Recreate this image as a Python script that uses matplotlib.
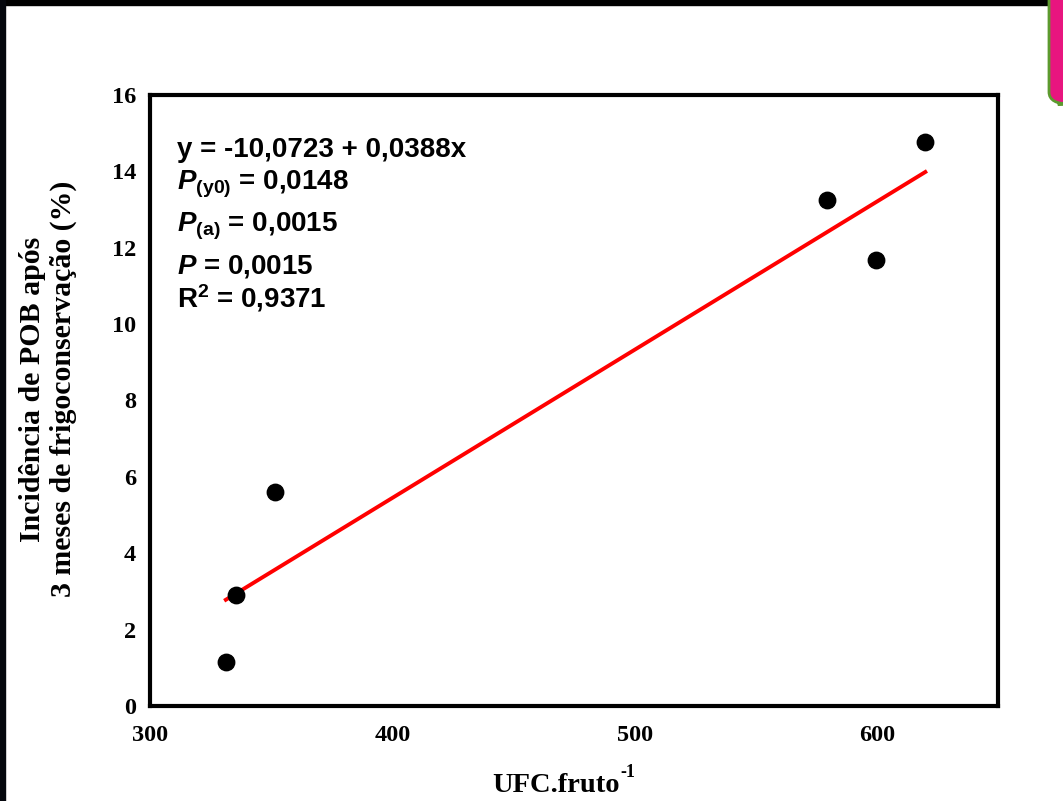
import matplotlib
matplotlib.use("Agg")
import matplotlib.pyplot as plt
import numpy as np
from matplotlib.patches import FancyBboxPatch, Rectangle

plt.rcParams["mathtext.fontset"] = "custom"
plt.rcParams["mathtext.rm"] = "Liberation Sans:bold"
plt.rcParams["mathtext.it"] = "Liberation Sans:italic:bold"
plt.rcParams["mathtext.bf"] = "Liberation Sans:bold"
plt.rcParams["mathtext.bfit"] = "Liberation Sans:italic:bold"

# Data
ufc = [331.3, 335.5, 351.5, 579.6, 599.8, 620.0]
incidencia = [1.15, 2.91, 5.60, 13.25, 11.68, 14.77]
intercept = -10.0723
slope = 0.0388
x_ticks = [300, 400, 500, 600]
y_ticks = [0, 2, 4, 6, 8, 10, 12, 14, 16]
stats_lines = [
    r"y = -10,0723 + 0,0388x",
    r"$\boldsymbol{P}_{\mathbf{(y0)}}$ = 0,0148",
    r"$\boldsymbol{P}_{\mathbf{(a)}}$ = 0,0015",
    r"$\boldsymbol{P}$ = 0,0015",
    r"R$^{\mathbf{2}}$ = 0,9371",
]

W, H = 1063, 801
fig = plt.figure(figsize=(W / 100, H / 100), dpi=100)
fig.patch.set_facecolor("white")

# decorative frame: black top strip, dark left strip, pink tab top right
fig.add_artist(Rectangle((0, 1 - 5 / H), 1, 5 / H, transform=fig.transFigure,
                         color="black", zorder=0))
fig.add_artist(Rectangle((0, 0), 5 / W, 1, transform=fig.transFigure,
                         color="#05070d", zorder=0))
fig.add_artist(FancyBboxPatch((1049 / W, 0.87), 30 / W, 0.2,
                              boxstyle="round,pad=0,rounding_size=0.02",
                              transform=fig.transFigure, facecolor="#e8157f",
                              edgecolor="#5c9a2e", linewidth=2, zorder=0,
                              mutation_aspect=H / W))

ax = fig.add_axes([150 / W, 1 - 706 / H, (998 - 150) / W, (706 - 95) / H])
ax.scatter(ufc, incidencia, s=140, color="black", zorder=3)
xl = np.array([min(ufc), max(ufc)])
ax.plot(xl, intercept + slope * xl, color="red", lw=2.8, zorder=2)

ax.set_xlim(300, 650)
ax.set_ylim(0, 16)
ax.set_xticks(x_ticks)
ax.set_yticks(y_ticks)
tfont = dict(family="Liberation Serif", weight="bold", size=17.5)
ax.set_xticklabels([str(v) for v in x_ticks], **tfont)
ax.set_yticklabels([str(v) for v in y_ticks], **tfont)
ax.tick_params(axis="x", length=0, pad=14)
ax.tick_params(axis="y", length=0, pad=10)
for s in ax.spines.values():
    s.set_linewidth(3)
    s.set_color("black")

# x label with superscript
lab = fig.text(492 / W, 1 - 792 / H, "UFC.fruto", ha="left", va="baseline",
               family="Liberation Serif", weight="bold", size=20.5)
fig.canvas.draw()
bb = lab.get_window_extent(renderer=fig.canvas.get_renderer())
fig.text((bb.x1 + 1) / W, 1 - 777 / H, "-1", ha="left", va="baseline",
         family="Liberation Serif", weight="bold", size=13)

fig.text(33 / W, 1 - 389 / H, "Incidência de POB após", rotation=90,
         ha="center", va="center", family="Liberation Serif", weight="bold", size=21.5)
fig.text(63 / W, 1 - 389 / H, "3 meses de frigoconservação (%)", rotation=90,
         ha="center", va="center", family="Liberation Serif", weight="bold", size=21.5)

ys = [157, 190, 232, 273, 307]
for txt, yp in zip(stats_lines, ys):
    fig.text(177 / W, 1 - yp / H, txt, ha="left", va="baseline",
             family="Liberation Sans", weight="bold", size=20)

fig.savefig("out.png", dpi=100, facecolor="white")
